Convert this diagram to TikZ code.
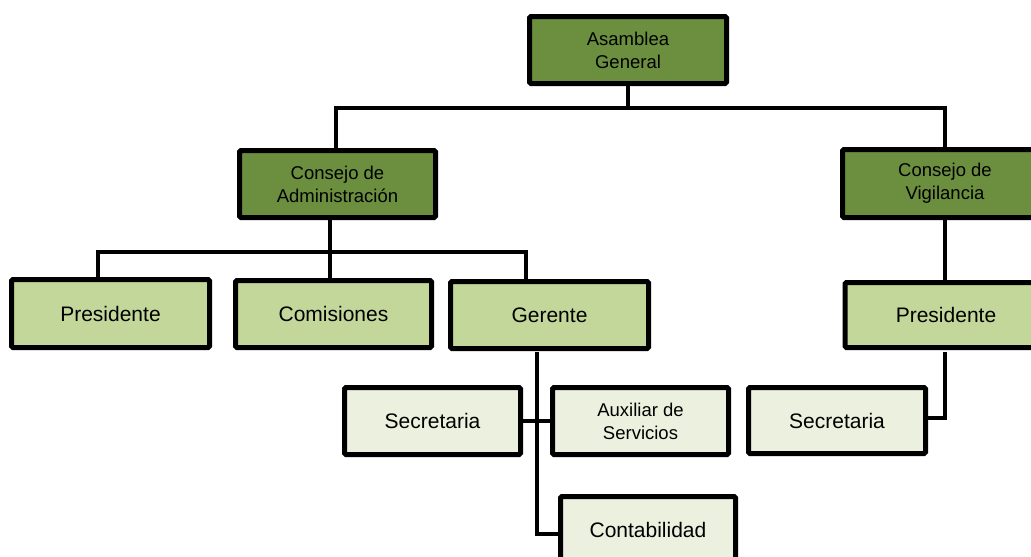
\documentclass[tikz,border=0pt]{standalone}
\usepackage{fontspec}
\setmainfont{Liberation Sans}
\usetikzlibrary{backgrounds}
\definecolor{darkg}{RGB}{107,143,62}
\definecolor{lightg}{RGB}{196,215,155}
\definecolor{paleg}{RGB}{235,241,222}
\tikzset{
  box/.style={draw=black, line width=5pt, rounded corners=1.5pt, inner sep=0pt, align=center},
  topbox/.style={box, fill=darkg, font=\fontsize{18.5}{23}\selectfont},
  midbox/.style={box, fill=lightg, font=\fontsize{21}{24}\selectfont},
  lowbox/.style={box, fill=paleg, font=\fontsize{21}{24}\selectfont},
  lowsmall/.style={box, fill=paleg, font=\fontsize{18.5}{23}\selectfont},
  conn/.style={draw=black, line width=4pt}
}
\begin{document}
\begin{tikzpicture}[x=1pt,y=-1pt]
\useasboundingbox (0,0) rectangle (1031,557);
\clip (0,0) rectangle (1031,557);
% nodes
\node[topbox, minimum width=197pt, minimum height=67pt] (ag) at (628,50) {Asamblea\\General};
\node[topbox, minimum width=196pt, minimum height=67pt] (ca) at (337.5,184) {Consejo de\\Administración};
\node[topbox, minimum width=205pt, minimum height=68pt] (cv) at (945,183.5) {Consejo de\\Vigilancia};
\node[midbox, minimum width=198pt, minimum height=68pt] (p1) at (110.5,313.5) {Presidente};
\node[midbox, minimum width=196pt, minimum height=67pt] (com) at (333.5,314) {Comisiones};
\node[midbox, minimum width=198pt, minimum height=67pt] (ger) at (549.5,315) {Gerente};
\node[midbox, minimum width=202pt, minimum height=65pt] (p2) at (946,315) {Presidente};
\node[lowbox, minimum width=176pt, minimum height=67pt] (sec1) at (432.5,421) {Secretaria};
\node[lowsmall, minimum width=176pt, minimum height=67pt] (aux) at (640.5,421) {Auxiliar de\\Servicios};
\node[lowbox, minimum width=177pt, minimum height=66pt] (sec2) at (837,420.5) {Secretaria};
\node[lowbox, minimum width=175pt, minimum height=67pt] (cont) at (648,530) {Contabilidad};
% junctions
\coordinate (b1) at (628,108);
\coordinate (b1l) at (336,108);
\coordinate (b1r) at (945,108);
\coordinate (b2) at (330,252);
\coordinate (b2l) at (98,252);
\coordinate (b2r) at (526,252);
\coordinate (g1) at (537,352);
\coordinate (g2) at (537,534);
\coordinate (v1) at (945,352);
\coordinate (v2) at (945,418);
% connectors
\begin{scope}[on background layer]
\draw[conn] (ag.south) -- (b1);
\draw[conn] (b1l |- ca.north) -- (b1l) -- (b1r) -- (b1r |- cv.north);
\draw[conn] (b2 |- ca.south) -- (b2);
\draw[conn] (b2l |- p1.north) -- (b2l) -- (b2r) -- (b2r |- ger.north);
\draw[conn] (b2) -- (b2 |- com.north);
\draw[conn] (cv.south -| b1r) -- (p2.north -| b1r);
\draw[conn] (v1) -- (v2) -- (sec2.east |- v2);
\draw[conn] (g1) -- (g2) -- (cont.west |- g2);
\draw[conn] (sec1.east) -- (aux.west);
\end{scope}
\end{tikzpicture}
\end{document}
